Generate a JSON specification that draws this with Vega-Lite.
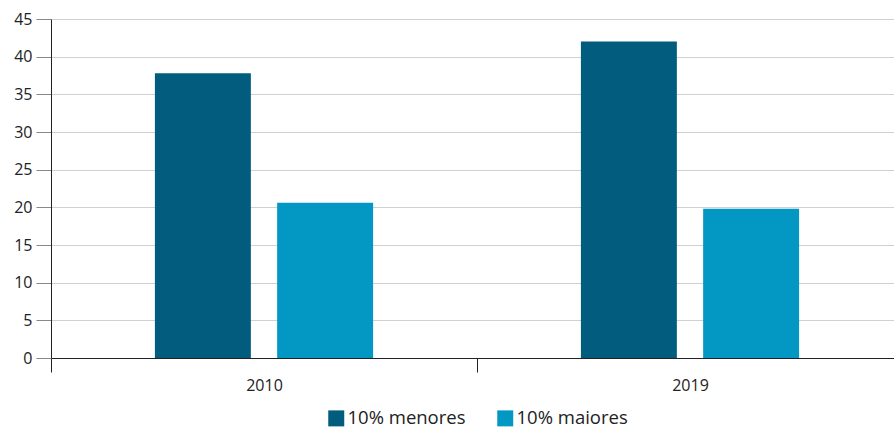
{
  "$schema": "https://vega.github.io/schema/vega-lite/v6.json",
  "width": 843,
  "height": 339,
  "autosize": {"type": "none"},
  "padding": {"left": 51, "top": 19, "right": 0, "bottom": 72},
  "background": "white",
  "config": {
    "view": {"stroke": null},
    "font": "Open Sans"
  },
  "data": {
    "values": [
      {"ano": "2010", "grupo": "10% menores", "valor": 37.8},
      {"ano": "2010", "grupo": "10% maiores", "valor": 20.6},
      {"ano": "2019", "grupo": "10% menores", "valor": 42.0},
      {"ano": "2019", "grupo": "10% maiores", "valor": 19.8}
    ]
  },
  "mark": {"type": "bar"},
  "encoding": {
    "x": {
      "field": "ano",
      "type": "nominal",
      "scale": {"paddingInner": 0, "paddingOuter": 0, "range": [0, 852]},
      "axis": {
        "title": null,
        "labelAngle": 0,
        "labelFontSize": 16,
        "labelColor": "#222222",
        "labelPadding": 5,
        "tickBand": "extent",
        "tickSize": 14,
        "tickColor": "#222222",
        "domainColor": "#222222",
        "grid": false
      }
    },
    "xOffset": {
      "field": "grupo",
      "type": "nominal",
      "sort": ["10% menores", "10% maiores"],
      "scale": {"paddingInner": 0.215, "paddingOuter": 0.85}
    },
    "y": {
      "field": "valor",
      "type": "quantitative",
      "scale": {"domain": [0, 45], "nice": false},
      "axis": {
        "title": null,
        "values": [0, 5, 10, 15, 20, 25, 30, 35, 40, 45],
        "labelFontSize": 16,
        "labelColor": "#222222",
        "labelPadding": 4,
        "tickSize": 15,
        "tickColor": "#888888",
        "domainColor": "#222222",
        "gridColor": "#d0d0d0",
        "gridWidth": 1
      }
    },
    "color": {
      "field": "grupo",
      "type": "nominal",
      "sort": ["10% menores", "10% maiores"],
      "scale": {"domain": ["10% menores", "10% maiores"], "range": ["#025C7E", "#0398C4"]},
      "legend": {
        "title": null,
        "orient": "none",
        "legendX": 276,
        "legendY": 390,
        "direction": "horizontal",
        "symbolType": "square",
        "symbolSize": 256,
        "symbolStrokeWidth": 0,
        "labelFontSize": 18.5,
        "labelColor": "#222222",
        "labelOffset": 2,
        "columnPadding": 30
      }
    }
  }
}
